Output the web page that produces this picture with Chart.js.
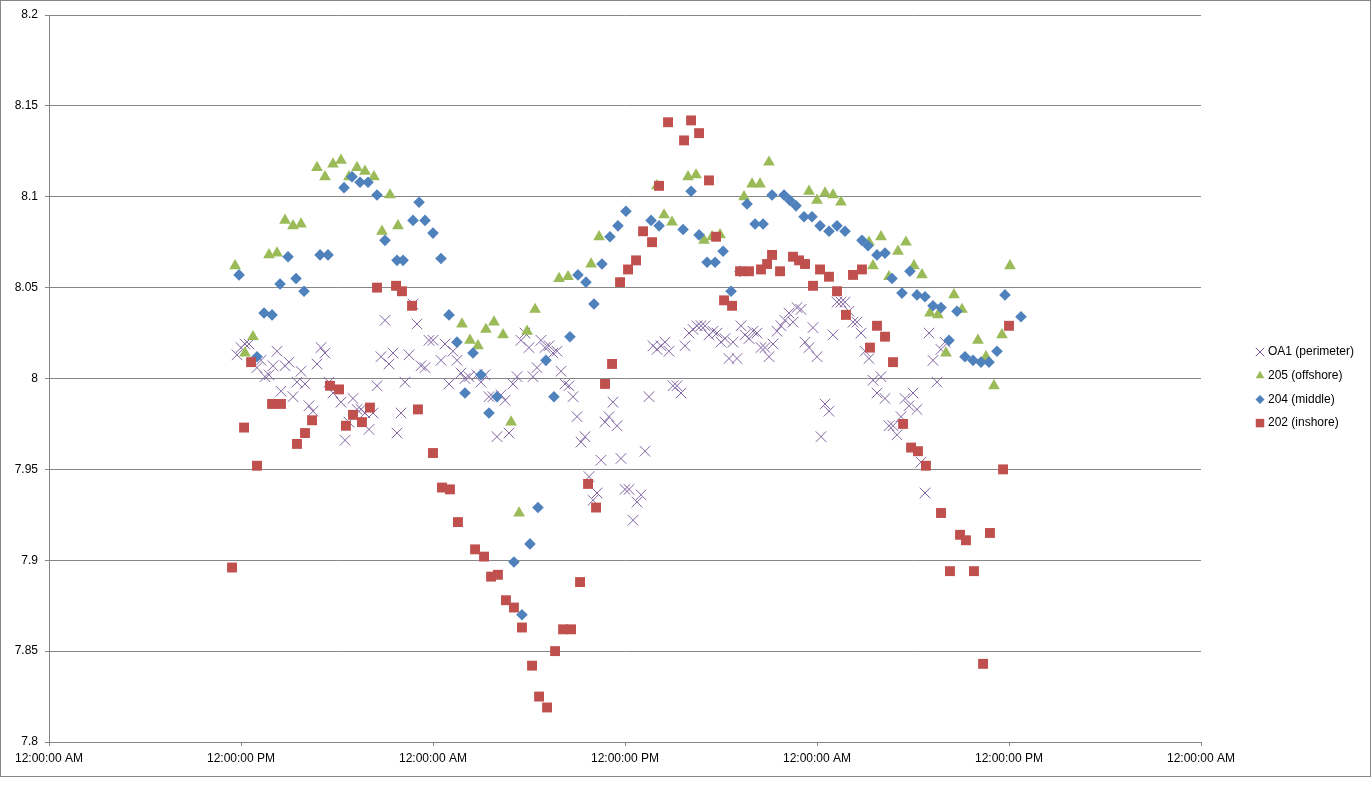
<!DOCTYPE html>
<html>
<head>
<meta charset="utf-8">
<title>pH readings</title>
<script src="https://cdn.jsdelivr.net/npm/chart.js@4/dist/chart.umd.min.js"></script>
<style>
  html, body { margin: 0; padding: 0; background: #fff; }
  #wrap { width: 1371px; height: 777px; }
</style>
</head>
<body>
<div id="wrap"><canvas id="scatterchart" width="1371" height="777"></canvas></div>
<script>
// x values are hours counted from the first midnight on the axis
const xTickLabels = ['12:00:00 AM', '12:00:00 PM'];

const oa1Hours = [
  11.75, 12.0, 12.25, 12.5, 13.0, 13.25, 13.5, 13.75, 14.0, 14.25,
  14.5, 14.75, 15.0, 15.25, 15.5, 15.75, 16.0, 16.25, 16.5, 16.75,
  17.0, 17.25, 17.5, 17.75, 18.25, 18.5, 18.75, 19.0, 19.25, 19.5,
  19.75, 20.0, 20.25, 20.5, 20.75, 21.0, 21.25, 21.5, 21.75, 22.0,
  22.25, 22.5, 22.75, 23.0, 23.25, 23.5, 23.75, 24.0, 24.5, 24.75,
  25.0, 25.25, 25.5, 25.75, 26.0, 26.25, 26.75, 27.0, 27.25, 27.5,
  27.75, 28.0, 28.25, 28.5, 28.75, 29.0, 29.25, 29.5, 29.75, 30.0,
  30.25, 30.5, 30.75, 31.0, 31.25, 31.5, 31.75, 32.0, 32.25, 32.5,
  32.75, 33.0, 33.25, 33.5, 33.75, 34.0, 34.25, 34.5, 34.75, 35.0,
  35.25, 35.5, 35.75, 36.0, 36.25, 36.5, 36.75, 37.0, 37.25, 37.5,
  37.75, 38.0, 38.25, 38.5, 38.75, 39.0, 39.25, 39.5, 39.75, 40.0,
  40.25, 40.5, 40.75, 41.0, 41.25, 41.5, 41.75, 42.0, 42.25, 42.5,
  42.75, 43.0, 43.25, 43.5, 43.75, 44.0, 44.25, 44.5, 44.75, 45.0,
  45.25, 45.5, 45.75, 46.0, 46.25, 46.5, 46.75, 47.0, 47.25, 47.5,
  47.75, 48.0, 48.25, 48.5, 48.75, 49.0, 49.25, 49.5, 49.75, 50.0,
  50.25, 50.5, 50.75, 51.0, 51.25, 51.5, 51.75, 52.0, 52.25, 52.5,
  52.75, 53.0, 53.25, 53.5, 53.75, 54.0, 54.25, 54.5, 54.75, 55.0,
  55.25, 55.5, 55.75, 56.0
];
const oa1Values = [
  8.013, 8.017, 8.019, 8.019, 8.006, 8.010, 8.001, 8.002, 8.007, 8.015,
  7.993, 8.007, 8.009, 7.990, 7.998, 8.004, 7.997, 7.985, 7.982, 8.008,
  8.017, 8.014, 7.998, 7.992, 7.987, 7.966, 7.976, 7.989, 7.983, 7.983,
  7.981, 7.972, 7.981, 7.996, 8.012, 8.032, 8.008, 8.014, 7.970, 7.981,
  7.998, 8.013, 8.041, 8.030, 8.007, 8.006, 8.021, 8.021, 8.010, 8.019,
  7.997, 8.015, 8.010, 8.003, 8.000, 8.001, 8.002, 7.998, 8.002, 7.990,
  7.990, 7.968, 7.991, 7.988, 7.970, 7.997, 8.001, 8.021, 8.025, 8.017,
  8.001, 8.006, 8.021, 8.017, 8.018, 8.014, 8.015, 8.004, 7.997, 7.996,
  7.990, 7.979, 7.965, 7.968, 7.946, 7.933, 7.937, 7.955, 7.976, 7.979,
  7.987, 7.974, 7.956, 7.939, 7.939, 7.922, 7.932, 7.936, 7.960, 7.990,
  8.018, 8.016, 8.018, 8.020, 8.015, 7.996, 7.996, 7.992, 8.018, 8.025,
  8.027, 8.029, 8.029, 8.029, 8.024, 8.026, 8.025, 8.020, 8.022, 8.011,
  8.020, 8.011, 8.029, 8.024, 8.022, 8.026, 8.025, 8.017, 8.017, 8.012,
  8.019, 8.026, 8.029, 8.032, 8.036, 8.031, 8.039, 8.038, 8.020, 8.017,
  8.028, 8.012, 7.968, 7.986, 7.982, 8.024, 8.042, 8.042, 8.042, 8.037,
  8.031, 8.031, 8.025, 8.015, 8.011, 7.999, 7.992, 8.001, 7.989, 7.974,
  7.974, 7.969, 7.979, 7.989, 7.985, 7.992, 7.983, 7.954, 7.937, 8.025,
  8.010, 7.998, 8.016, 8.020
];

const offshoreHours = [
  11.63, 12.25, 12.75, 13.75, 14.25, 14.75, 15.25, 15.75, 16.75, 17.25,
  17.75, 18.25, 18.75, 19.25, 19.75, 20.31, 20.81, 21.31, 21.81,
  25.81, 26.31, 26.81, 27.31, 27.81, 28.38, 28.88, 29.38, 29.88, 30.38,
  31.88, 32.44, 33.88, 34.38,
  38.0, 38.44, 38.94, 39.94, 40.44, 40.94, 41.44, 41.94, 43.44, 43.94,
  44.44, 45.0, 47.5, 48.0, 48.5, 49.0, 49.5, 51.25, 51.5, 52.0,
  52.5, 53.06, 53.56, 54.06, 54.56, 55.06, 55.56, 56.06, 56.56, 57.06,
  58.06, 58.56, 59.06, 59.56, 60.06
];
const offshoreValues = [
  8.062, 8.014, 8.023, 8.068, 8.069, 8.087, 8.084, 8.085, 8.116, 8.111,
  8.118, 8.120, 8.111, 8.116, 8.114, 8.111, 8.081, 8.101, 8.084,
  8.030, 8.021, 8.018, 8.027, 8.031, 8.024, 7.976, 7.926, 8.026, 8.038,
  8.055, 8.056, 8.063, 8.078,
  8.106, 8.090, 8.086, 8.111, 8.112, 8.076, 8.078, 8.079, 8.100, 8.107,
  8.107, 8.119, 8.103, 8.098, 8.102, 8.101, 8.097, 8.075, 8.062, 8.078,
  8.056, 8.070, 8.075, 8.062, 8.057, 8.036, 8.035, 8.014, 8.046, 8.038,
  8.021, 8.012, 7.996, 8.024, 8.062
];

const middleHours = [
  11.88, 13.0, 13.44, 13.94, 14.44, 14.94, 15.44, 15.94, 16.94, 17.44,
  18.44, 18.94, 19.44, 19.94, 20.5, 21.0, 21.75, 22.13, 22.75, 23.13,
  23.5, 24.0, 24.5, 25.0, 25.5, 26.0, 26.5, 27.0, 27.5, 28.0,
  29.06, 29.56, 30.06, 30.56, 31.06, 31.56, 32.56, 33.06, 33.56, 34.06,
  34.56, 35.06, 35.56, 36.06, 37.63, 38.13, 39.63, 40.13, 40.63, 41.13,
  41.63, 42.13, 42.63, 43.19, 43.63, 44.13, 44.63, 45.19, 45.94, 46.31,
  46.69, 47.19, 47.69, 48.19, 48.75, 49.25, 49.75, 50.81, 51.19, 51.75,
  52.25, 52.69, 53.31, 53.81, 54.25, 54.75, 55.25, 55.75, 56.25, 56.75,
  57.25, 57.75, 58.25, 58.75, 59.25, 59.75, 60.75
];
const middleValues = [
  8.057, 8.012, 8.036, 8.035, 8.052, 8.067, 8.055, 8.048, 8.068, 8.068,
  8.105, 8.111, 8.108, 8.108, 8.101, 8.076, 8.065, 8.065, 8.087, 8.097,
  8.087, 8.080, 8.066, 8.035, 8.020, 7.992, 8.014, 8.002, 7.981, 7.990,
  7.899, 7.870, 7.909, 7.929, 8.010, 7.990, 8.023, 8.057, 8.053, 8.041,
  8.063, 8.078, 8.084, 8.092, 8.087, 8.084, 8.082, 8.103, 8.079, 8.064,
  8.064, 8.070, 8.048, 8.059, 8.096, 8.085, 8.085, 8.101, 8.101, 8.098,
  8.095, 8.089, 8.089, 8.084, 8.081, 8.084, 8.081, 8.076, 8.073, 8.068,
  8.069, 8.055, 8.047, 8.059, 8.046, 8.045, 8.040, 8.039, 8.021, 8.037,
  8.012, 8.010, 8.009, 8.009, 8.015, 8.046, 8.034
];

const inshoreHours = [
  11.44, 12.19, 12.63, 13.0, 13.94, 14.5, 15.5, 16.0, 16.44, 17.56,
  18.13, 18.56, 19.0, 19.56, 20.06, 20.5, 21.69, 22.06, 22.69, 23.06,
  24.0, 24.56, 25.06, 25.56, 26.63, 27.19, 27.63, 28.06, 28.56, 29.06,
  29.56, 30.19, 30.63, 31.13, 31.63, 32.13, 32.63, 33.19, 33.69, 34.19,
  34.75, 35.19, 35.69, 36.19, 36.69, 37.13, 37.69, 38.13, 38.69, 39.69,
  40.13, 40.63, 41.25, 41.69, 42.19, 42.69, 43.19, 43.75, 44.5, 44.88,
  45.19, 45.69, 46.5, 46.88, 47.25, 47.75, 48.19, 48.75, 49.25, 49.81,
  50.25, 50.81, 51.31, 51.75, 52.25, 52.75, 53.38, 53.88, 54.31, 54.81,
  55.75, 56.31, 56.94, 57.31, 57.81, 58.38, 58.81, 59.63, 60.0
];
const inshoreValues = [
  7.896, 7.973, 8.009, 7.952, 7.986, 7.986, 7.964, 7.970, 7.977, 7.996,
  7.994, 7.974, 7.980, 7.976, 7.984, 8.050, 8.051, 8.048, 8.040, 7.983,
  7.959, 7.940, 7.939, 7.921, 7.906, 7.902, 7.891, 7.892, 7.878, 7.874,
  7.863, 7.842, 7.825, 7.819, 7.850, 7.862, 7.862, 7.888, 7.942, 7.929,
  7.997, 8.008, 8.053, 8.060, 8.065, 8.081, 8.075, 8.106, 8.141, 8.131,
  8.142, 8.135, 8.109, 8.078, 8.043, 8.040, 8.059, 8.059, 8.060, 8.063,
  8.068, 8.059, 8.067, 8.065, 8.063, 8.051, 8.060, 8.056, 8.048, 8.035,
  8.057, 8.060, 8.017, 8.029, 8.023, 8.009, 7.975, 7.962, 7.960, 7.952,
  7.926, 7.894, 7.914, 7.911, 7.894, 7.843, 7.915, 7.950, 8.029
];

const toPoints = (hours, values) => hours.map((h, i) => ({ x: h, y: values[i] }));

Chart.defaults.font.family = '"Liberation Sans", Arial, sans-serif';
Chart.defaults.font.size = 12;
Chart.defaults.color = '#000';

// legend drawn at the right, plus the thin frame around the whole chart
const sideLegend = {
    id: 'sideLegend',
    afterDraw(chart) {
        const ctx = chart.ctx;
        const area = chart.chartArea;
        ctx.save();
        ctx.strokeStyle = '#868686';
        ctx.lineWidth = 1;
        ctx.strokeRect(0.5, 0.5, chart.width - 1, chart.height - 1);

        ctx.font = '12px "Liberation Sans", Arial, sans-serif';
        ctx.textBaseline = 'middle';
        chart.data.datasets.forEach((ds, i) => {
            const y = 352 + i * 23.7;
            const x = area.right + 59;
            ctx.fillStyle = ds.pointBackgroundColor;
            ctx.strokeStyle = ds.pointBorderColor;
            ctx.lineWidth = 1;
            Chart.helpers.drawPoint(ctx, {
                pointStyle: ds.pointStyle,
                radius: ds.legendRadius,
                rotation: 0,
                borderWidth: ds.pointStyle === 'crossRot' ? 1 : 0
            }, x, y);
            ctx.fillStyle = '#000';
            ctx.fillText(ds.label, x + 8, y);
        });
        ctx.restore();
    }
};

const scatterCanvas = document.getElementById('scatterchart');
const ctx = scatterCanvas.getContext('2d');

const phChart = new Chart(ctx, {
    type: 'scatter',
    data: {
        datasets: [
            {
                label: 'OA1 (perimeter)',
                data: toPoints(oa1Hours, oa1Values),
                pointStyle: 'crossRot',
                pointRadius: 7.5,
                pointBorderWidth: 1,
                pointBackgroundColor: '#8064A2',
                pointBorderColor: '#8064A2',
                legendRadius: 6,
                order: 4
            },
            {
                label: '205 (offshore)',
                data: toPoints(offshoreHours, offshoreValues),
                pointStyle: 'triangle',
                pointRadius: 6.8,
                pointBorderWidth: 0,
                pointBackgroundColor: '#9BBB59',
                pointBorderColor: '#9BBB59',
                legendRadius: 5,
                order: 3
            },
            {
                label: '204 (middle)',
                data: toPoints(middleHours, middleValues),
                pointStyle: 'rectRot',
                pointRadius: 5.8,
                pointBorderWidth: 0,
                pointBackgroundColor: '#4F81BD',
                pointBorderColor: '#4F81BD',
                legendRadius: 4.5,
                order: 2
            },
            {
                label: '202 (inshore)',
                data: toPoints(inshoreHours, inshoreValues),
                pointStyle: 'rect',
                pointRadius: 7,
                pointBorderWidth: 0,
                pointBackgroundColor: '#C0504D',
                pointBorderColor: '#C0504D',
                legendRadius: 6,
                order: 1
            }
        ]
    },
    options: {
        responsive: false,
        animation: false,
        events: [],
        layout: { padding: { top: 15, right: 170, left: 0, bottom: 0 } },
        plugins: {
            legend: { display: false },
            tooltip: { enabled: false }
        },
        scales: {
            x: {
                type: 'linear',
                min: 0,
                max: 72,
                ticks: {
                    stepSize: 12,
                    maxRotation: 0,
                    autoSkip: false,
                    padding: 5,
                    callback: (v) => xTickLabels[Math.round(v / 12) % 2]
                },
                grid: { drawOnChartArea: false, tickLength: 4, color: '#868686' },
                border: { color: '#868686' },
                afterFit: (scale) => { scale.height = 35; }
            },
            y: {
                min: 7.8,
                max: 8.2,
                ticks: {
                    stepSize: 0.05,
                    padding: 7,
                    callback: (v) => String(+v.toFixed(2))
                },
                grid: { color: '#868686', tickLength: 4 },
                border: { color: '#868686' },
                afterFit: (scale) => { scale.width = 49; }
            }
        }
    },
    plugins: [sideLegend]
});
</script>
</body>
</html>
